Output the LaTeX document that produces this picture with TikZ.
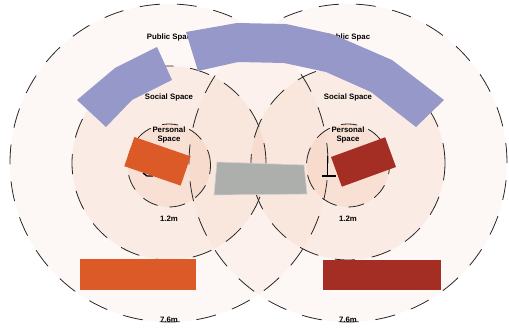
\documentclass[tikz,border=0pt]{standalone}
\usepackage{fontspec}
\setmainfont{Liberation Sans}
\usepackage{tikz}
\usetikzlibrary{positioning,calc}
\definecolor{zonefill}{RGB}{230,147,105}
\definecolor{bandblue}{RGB}{150,152,201}
\definecolor{deskorange}{RGB}{220,90,40}
\definecolor{deskred}{RGB}{164,46,36}
\definecolor{tablegray}{RGB}{173,175,173}
\begin{document}
\begin{tikzpicture}[x=1pt,y=-1pt,
		zone/.style={fill=zonefill,fill opacity=#1},
		ring/.style={draw=black!85,line width=0.8pt,dash pattern=on 20pt off 17pt},
		lbl/.style={font=\fontsize{7.8}{9}\selectfont\bfseries,align=center,inner sep=0pt},
		desk/.style={fill=#1,inner sep=0pt}]
		\useasboundingbox (0,0) rectangle (509,328);
		\coordinate (L) at (169,163);
		\coordinate (R) at (348,163);
		\coordinate (Lp) at ($(L)+(0,2.5)$);
		\coordinate (Rp) at ($(R)+(0,2.5)$);
		\foreach \c in {L,R} \fill[zone=0.067] (\c) circle[radius=159pt];
		\foreach \c in {L,R} \fill[zone=0.12] (\c) circle[radius=97pt];
		\foreach \c in {Lp,Rp} \fill[zone=0.13] (\c) circle[radius=41.5pt];
		\foreach \c in {L,R} {
			\draw[ring] (\c) circle[radius=159pt];
			\draw[ring] (\c) circle[radius=97pt];
			\draw[ring,dash pattern=on 16pt off 12pt] (\c p) circle[radius=41.5pt];
			\node[lbl] (pub\c) at ($(\c)+(0,-126)$) {Public Spac};
			\node[lbl] (soc\c) at ($(\c)+(0,-66)$) {Social Space};
			\node[lbl] (per\c) at ($(\c)+(0,-28.5)$) {Personal\\Space};
			\node[lbl] (near\c) at ($(\c)+(0,56)$) {1.2m};
			\node[lbl] (far\c) at ($(\c)+(0,157)$) {7.6m};
		}
		\draw[line width=1.4pt] (143,173) -- (147,176) -- (153,176);
		\draw[thin] (327,156) -- (327,176);
		\draw[line width=1.6pt] (322,176) -- (336,176);
		\node[desk=deskorange,minimum width=59.6pt,minimum height=30.9pt,rotate=-19] (chairL) at (157.5,161.3) {};
		\node[desk=deskred,minimum width=57.6pt,minimum height=31.6pt,rotate=20] (chairR) at (363.5,162) {};
		\filldraw[fill=tablegray,draw=gray!35,line width=0.6pt] (217,162) -- (304,165) -- (307,194) -- (214,195) -- cycle;
		\fill[deskorange] (80,259) rectangle (196,290);
		\fill[deskred] (323,260) rectangle (441,290);
		\fill[bandblue] (77,100) -- (115,68) -- (157,47) -- (172,80) -- (132,100) -- (106,127) -- cycle;
		\fill[bandblue] (186,32) -- (237,23) -- (286,24) -- (332,34) -- (392,60) -- (444,100) -- (416,127) -- (371,92) -- (326,72) -- (284,63) -- (238,62) -- (198,71) -- cycle;
\end{tikzpicture}
\end{document}
